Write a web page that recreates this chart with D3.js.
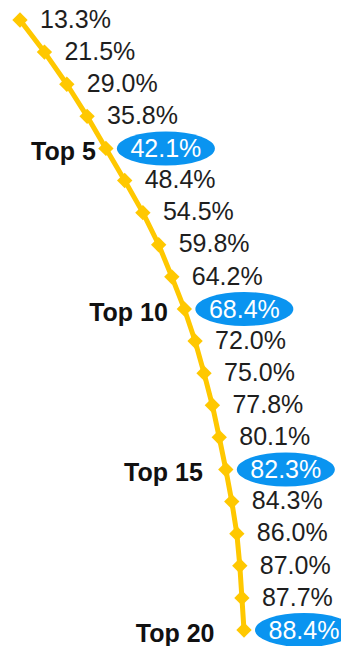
<!DOCTYPE html>
<html>
<head>
<meta charset="utf-8">
<script src="https://cdn.jsdelivr.net/npm/d3@7"></script>
<style>
  body { margin: 0; background: #fff; }
  text { font-family: "Liberation Sans", Arial, sans-serif; }
</style>
</head>
<body>
<div id="vis"></div>
<script>
var width = 341;
var height = 646;

// cumulative share by rank
var ranks = d3.range(1, 21);
var shares = [13.3, 21.5, 29.0, 35.8, 42.1, 48.4, 54.5, 59.8, 64.2, 68.4,
              72.0, 75.0, 77.8, 80.1, 82.3, 84.3, 86.0, 87.0, 87.7, 88.4];
var highlight_ranks = [5, 10, 15, 20];
var highlight_labels = ["Top 5", "Top 10", "Top 15", "Top 20"];

var line_color = "#FFC800";
var blue = "#0A94F0";

var data = ranks.map(function(r, i){
  return {rank: r, value: shares[i], hl: highlight_ranks.indexOf(r) >= 0};
});

var x_scale = d3.scaleLinear()
  .domain([13.3, 88.4])
  .range([20, 244]);

var y_scale = d3.scaleLinear()
  .domain([1, 20])
  .range([20, 630]);

var svg = d3.select("#vis").append("svg")
  .attr("width", width)
  .attr("height", height);

var line = d3.line()
  .x(d => x_scale(d.value))
  .y(d => y_scale(d.rank));

svg.append("path")
  .datum(data)
  .attr("d", line)
  .attr("fill", "none")
  .attr("stroke", line_color)
  .attr("stroke-width", 5)
  .attr("stroke-linejoin", "round");

var diamond = d3.symbol().type(d3.symbolDiamond2).size(150);

svg.selectAll(".marker")
  .data(data)
  .enter().append("path")
  .attr("class", "marker")
  .attr("d", diamond)
  .attr("transform", d => "translate(" + x_scale(d.value) + "," + y_scale(d.rank) + ")")
  .attr("fill", line_color);

// plain value labels
svg.selectAll(".val")
  .data(data.filter(d => !d.hl))
  .enter().append("text")
  .attr("class", "val")
  .attr("x", d => x_scale(d.value) + 20)
  .attr("y", d => y_scale(d.rank) - 1)
  .attr("dy", "0.35em")
  .attr("font-size", 25)
  .attr("fill", "#1e1e1e")
  .text(d => d.value.toFixed(1) + "%");

// highlighted labels in a blue ellipse
var hl = svg.selectAll(".hl")
  .data(data.filter(d => d.hl))
  .enter().append("g")
  .attr("class", "hl")
  .attr("transform", d => "translate(" + (x_scale(d.value) + 60) + "," + y_scale(d.rank) + ")");

hl.append("ellipse")
  .attr("rx", 49)
  .attr("ry", 17)
  .attr("fill", blue);

hl.append("text")
  .attr("text-anchor", "middle")
  .attr("dy", "0.35em")
  .attr("font-size", 25)
  .attr("fill", "#fff")
  .text(d => d.value.toFixed(1) + "%");

// "Top N" labels on the left
svg.selectAll(".top")
  .data(data.filter(d => d.hl))
  .enter().append("text")
  .attr("class", "top")
  .attr("x", d => x_scale(d.value) - 10 - (d.rank - 5) * 1.3)
  .attr("y", d => y_scale(d.rank) + 3)
  .attr("dy", "0.35em")
  .attr("text-anchor", "end")
  .attr("font-size", 25)
  .attr("font-weight", "bold")
  .attr("fill", "#111")
  .text((d, i) => highlight_labels[i]);
</script>
</body>
</html>
